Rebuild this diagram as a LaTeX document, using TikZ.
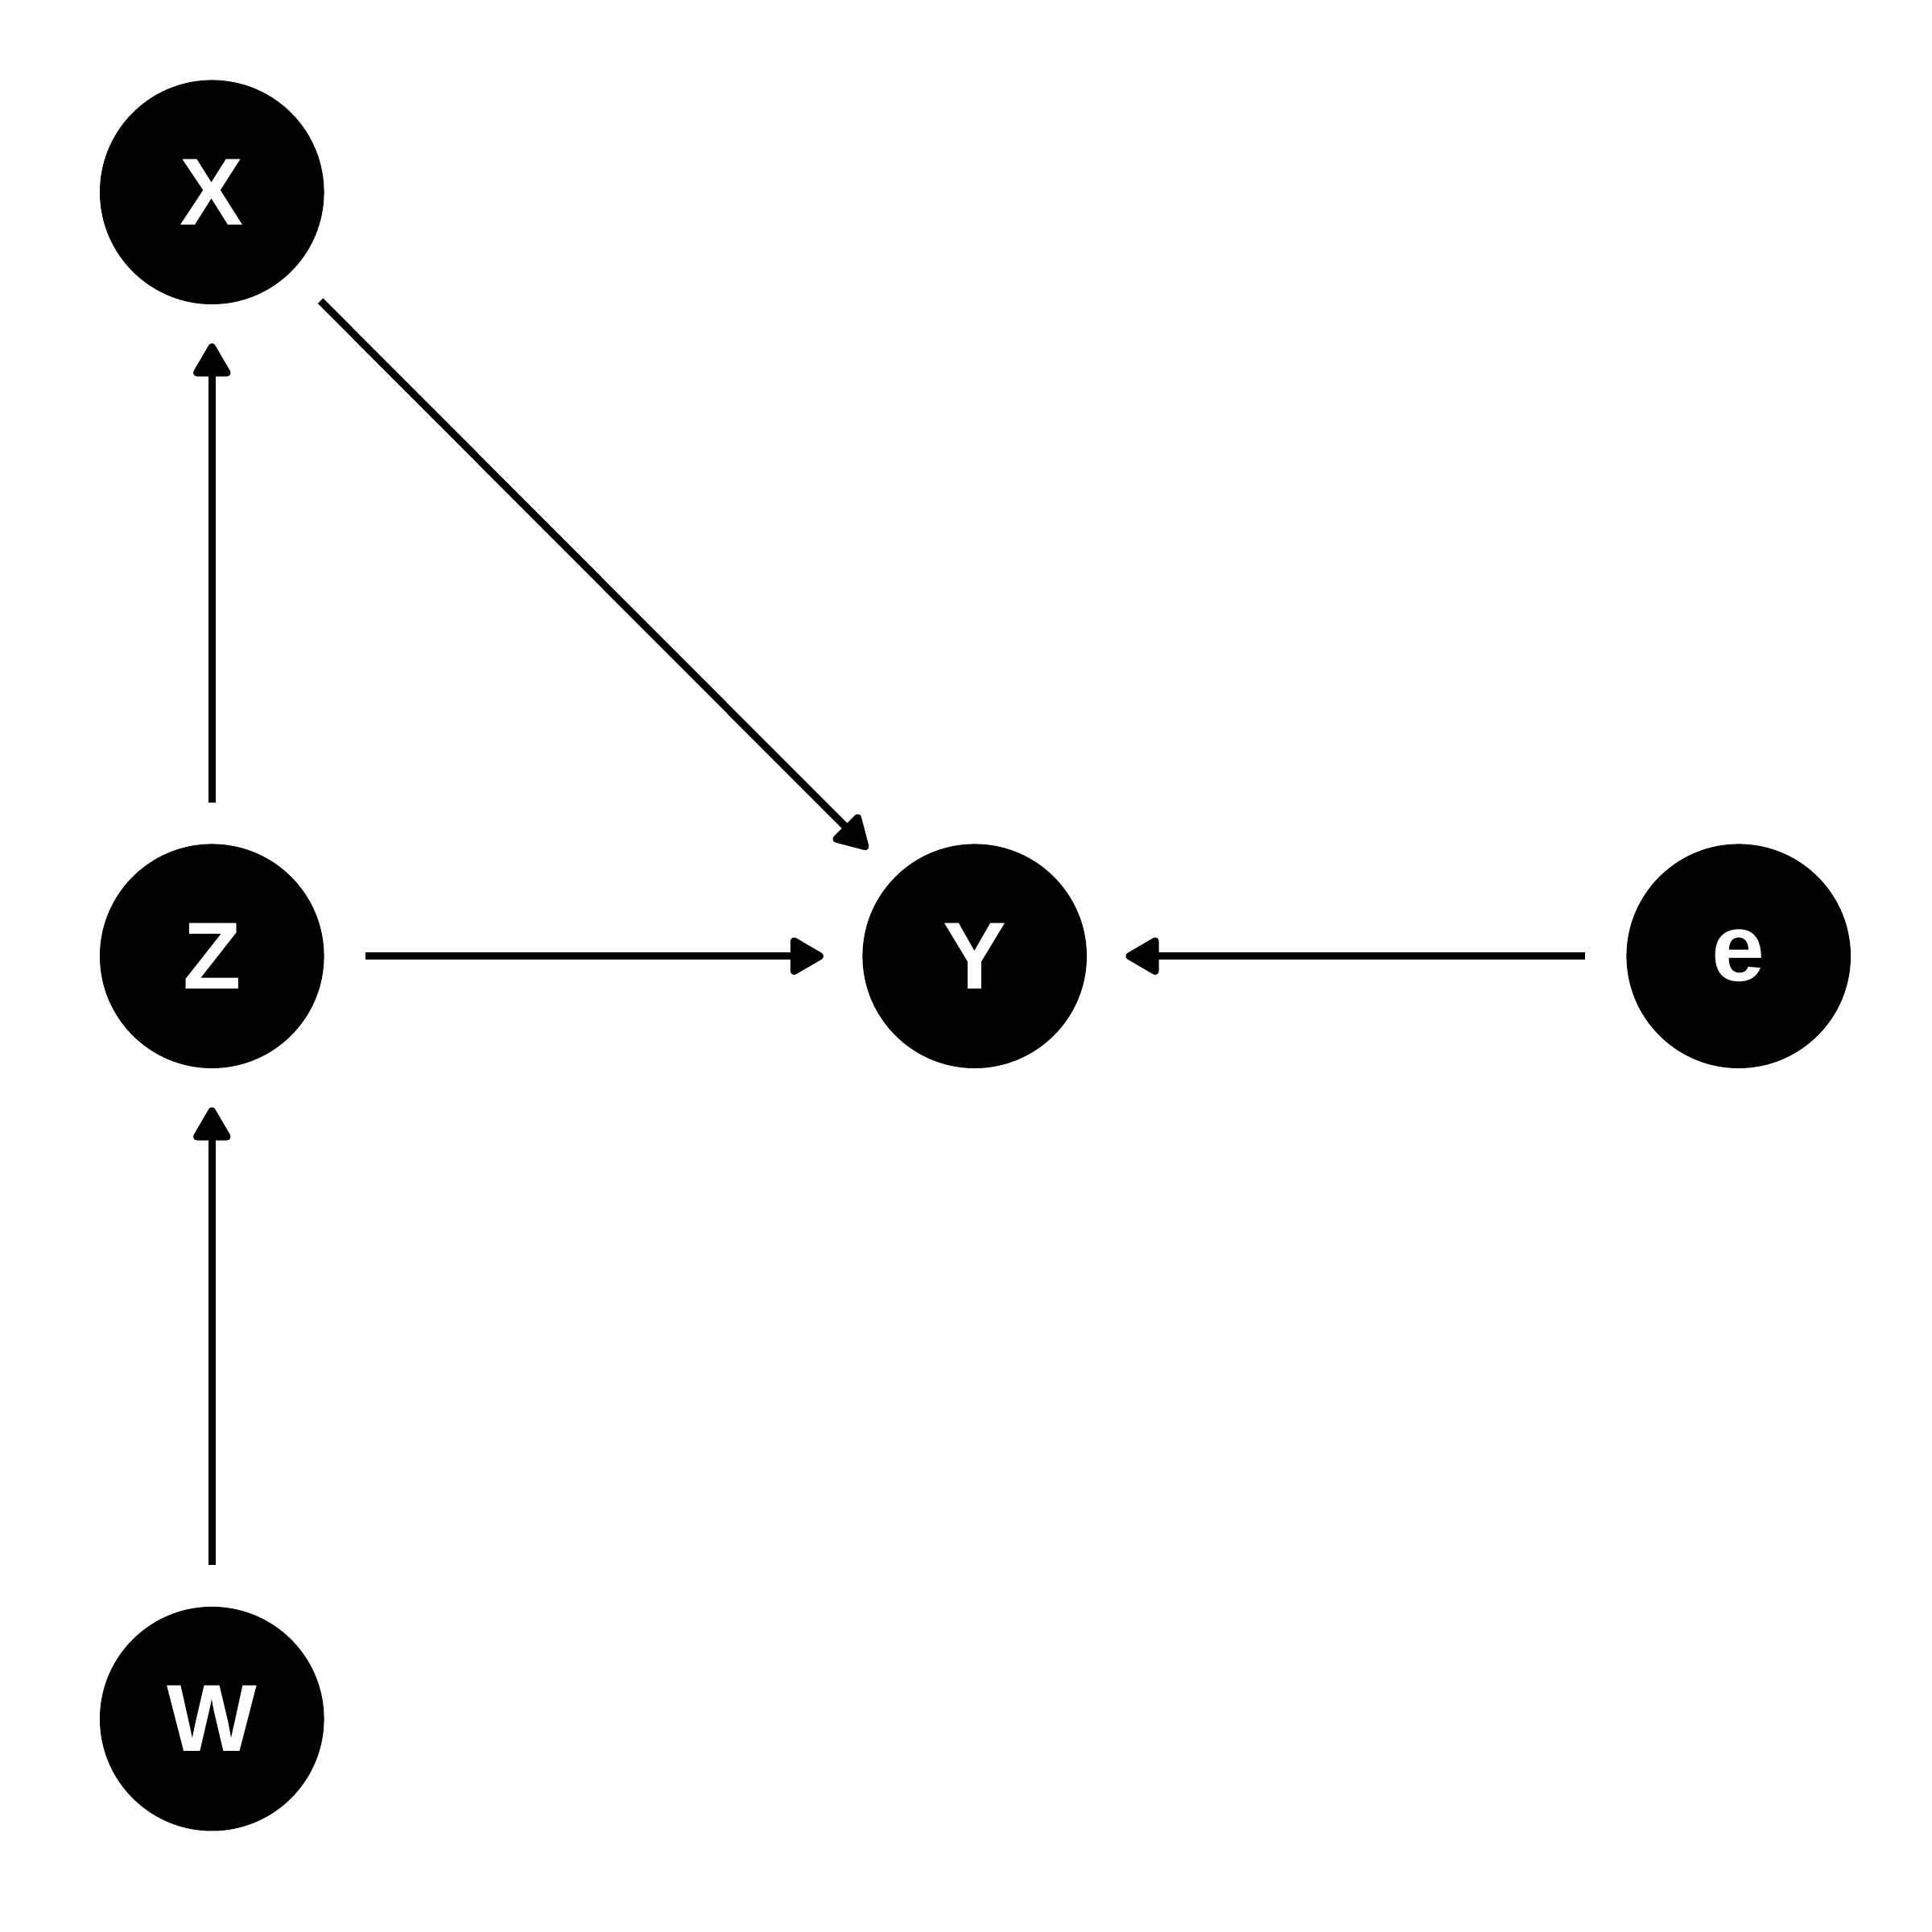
\documentclass[tikz,border=0pt]{standalone}
\usepackage{fontspec}
\setmainfont{Liberation Sans}
\usepackage{xcolor}
\usetikzlibrary{arrows.meta}
\definecolor{ink}{HTML}{000000}
\definecolor{paper}{HTML}{FFFFFF}
\tikzset{
  var/.style={circle, fill=ink, minimum size=1.82cm, inner sep=0pt,
    text=paper, font=\fontsize{22}{24}\selectfont\bfseries},
  edge/.style={draw=ink, line width=0.06cm,
    -{Triangle[length=0.3cm, width=0.33cm, round]},
    shorten <=0.33cm, shorten >=0.31cm},
}

\begin{document}
\begin{tikzpicture}
  \useasboundingbox[fill=paper] (0,0) rectangle (15.68,15.68);

  \node[var] (X) at (1.72,14.12) {X};
  \node[var] (Z) at (1.72,7.92) {Z};
  \node[var] (W) at (1.72,1.73) {W};
  \node[var] (Y) at (7.91,7.92) {Y};
  \node[var] (e) at (14.11,7.92) {e};

  \draw[edge] (Z) -- (X);
  \draw[edge] (W) -- (Z);
  \draw[edge] (X) -- (Y);
  \draw[edge] (Z) -- (Y);
  \draw[edge] (e) -- (Y);
\end{tikzpicture}
\end{document}
